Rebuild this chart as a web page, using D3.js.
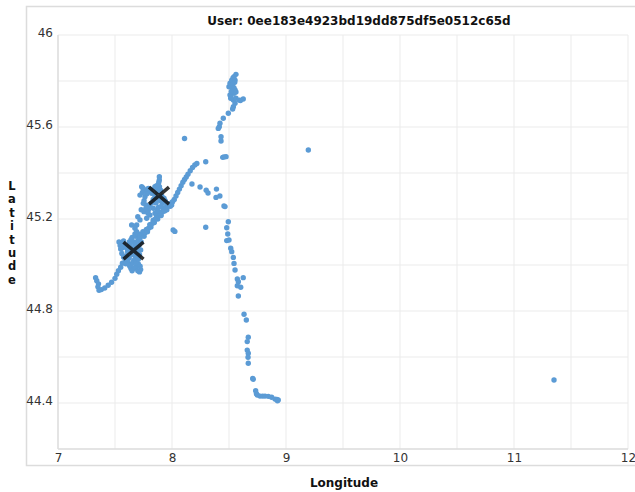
<!DOCTYPE html>
<html><head><meta charset="utf-8">
<script src="https://cdn.jsdelivr.net/npm/d3@7"></script>
<style>body{margin:0;background:#fff;}svg{display:block;font-family:"DejaVu Sans",sans-serif;}</style>
</head><body>
<svg id="c" width="635" height="492"></svg>
<script>
const title = "User: 0ee183e4923bd19dd875df5e0512c65d";
const xTicks = [7, 8, 9, 10, 11, 12];
const yTicks = [44.4, 44.8, 45.2, 45.6, 46];
const xGrid = [7, 7.5, 8, 8.5, 9, 9.5, 10, 10.5, 11, 11.5, 12];
const yGrid = [44.2, 44.4, 44.6, 44.8, 45, 45.2, 45.4, 45.6, 45.8, 46];

// [lon, lat]
const tailSW = [[7.33,44.945],[7.34,44.932],[7.355,44.918],[7.35,44.905],[7.36,44.89],[7.38,44.893],[7.41,44.9],[7.44,44.912],[7.47,44.925],[7.5,44.942],[7.515,44.96],[7.53,44.975],[7.55,44.99],[7.565,45.008]];
const clusterLow = [[7.535,45.10],[7.545,45.085],[7.56,45.095],[7.575,45.105],[7.55,45.07],[7.56,45.05],[7.575,45.035],[7.59,45.025],[7.60,45.015],[7.615,45.005],[7.63,44.995],[7.64,44.985],[7.65,44.975],[7.665,44.985],[7.68,44.99],[7.70,44.975],[7.715,44.97],[7.725,44.98],[7.72,44.995],[7.705,45.005],[7.60,45.04],[7.61,45.06],[7.62,45.08],[7.625,45.10],[7.64,45.11],[7.65,45.12],[7.665,45.10],[7.675,45.09],[7.69,45.075],[7.70,45.06],[7.695,45.04],[7.68,45.03],[7.665,45.02],[7.655,45.045],[7.645,45.055],[7.625,45.03],[7.61,45.02],[7.595,45.005],[7.64,45.0],[7.655,45.01],[7.685,45.01],[7.705,45.025],[7.715,45.045],[7.725,45.065],[7.71,45.085],[7.70,45.105],[7.685,45.125],[7.675,45.135],[7.69,45.145],[7.705,45.135],[7.715,45.115],[7.73,45.10],[7.72,45.125],[7.565,45.075],[7.58,45.09],[7.60,45.075],[7.63,45.09],[7.645,45.075],[7.67,45.055],[7.68,45.07]];
const band = [[7.72,45.12],[7.735,45.135],[7.745,45.145],[7.755,45.125],[7.765,45.14],[7.775,45.155],[7.785,45.145],[7.795,45.16],[7.805,45.175],[7.815,45.165],[7.825,45.18],[7.835,45.195],[7.845,45.185],[7.855,45.2],[7.865,45.215],[7.875,45.2],[7.885,45.215],[7.895,45.23],[7.905,45.215],[7.915,45.23],[7.925,45.245],[7.935,45.235],[7.945,45.25],[7.955,45.24],[7.965,45.255],[7.975,45.265],[7.985,45.255],[7.995,45.27],[8.005,45.275],[8.02,45.285],[8.035,45.30],[8.05,45.315],[8.065,45.33],[8.08,45.345],[8.095,45.36],[8.11,45.372],[8.125,45.383],[8.14,45.395],[8.16,45.41],[8.18,45.424],[8.20,45.435],[8.218,45.441],[8.296,45.449]];
const clusterUp = [[7.889,45.384],[7.889,45.37],[7.88,45.348],[7.884,45.36],[7.734,45.34],[7.719,45.304],[7.763,45.326],[7.792,45.333],[7.822,45.312],[7.763,45.297],[7.748,45.268],[7.772,45.261],[7.754,45.232],[7.792,45.239],[7.807,45.217],[7.778,45.203],[7.719,45.196],[7.69,45.174],[7.646,45.174],[7.675,45.16],[7.836,45.247],[7.851,45.225],[7.895,45.225],[7.924,45.247],[7.953,45.268],[7.997,45.261],[7.86,45.33],[7.875,45.32],[7.90,45.325],[7.91,45.30],[7.875,45.29],[7.895,45.28],[7.915,45.27],[7.86,45.27],[7.85,45.30],[7.835,45.285],[7.82,45.27],[7.88,45.25],[7.87,45.235],[7.905,45.255],[7.89,45.34],[7.81,45.33],[7.80,45.32],[7.78,45.31],[7.745,45.335],[7.74,45.315],[7.755,45.28],[7.77,45.245],[7.79,45.225],[7.805,45.255],[7.85,45.34],[7.865,45.345],[7.93,45.29],[7.94,45.28],[7.73,45.24],[7.70,45.21]];
const loopEast = [[8.175,45.352],[8.246,45.339],[8.30,45.325],[8.316,45.313],[8.39,45.33],[8.386,45.294],[8.42,45.30],[8.456,45.257],[8.465,45.254],[8.296,45.164],[8.01,45.152],[8.025,45.146],[8.11,45.55]];
const descent = [[8.494,45.188],[8.48,45.162],[8.489,45.135],[8.48,45.106],[8.50,45.109],[8.515,45.073],[8.524,45.058],[8.538,45.033],[8.544,45.007],[8.553,44.978],[8.573,44.939],[8.625,44.945],[8.582,44.927],[8.573,44.91],[8.603,44.903],[8.582,44.865],[8.632,44.786],[8.652,44.761],[8.669,44.686],[8.66,44.667],[8.66,44.63],[8.669,44.616],[8.667,44.599],[8.669,44.573]];
const bottomRun = [[8.708,44.507],[8.713,44.503],[8.734,44.453],[8.74,44.44],[8.748,44.435],[8.772,44.43],[8.795,44.43],[8.816,44.43],[8.845,44.429],[8.874,44.425],[8.904,44.417],[8.92,44.415],[8.932,44.413],[8.925,44.41]];
const topCluster = [[8.561,45.829],[8.544,45.819],[8.524,45.804],[8.509,45.79],[8.50,45.775],[8.532,45.768],[8.553,45.761],[8.544,45.747],[8.509,45.739],[8.515,45.725],[8.538,45.717],[8.561,45.725],[8.59,45.717],[8.625,45.722],[8.553,45.703],[8.538,45.688],[8.532,45.678],[8.494,45.66],[8.45,45.638],[8.421,45.616],[8.415,45.601],[8.406,45.594],[8.43,45.558],[8.43,45.539],[8.445,45.468],[8.474,45.471],[8.456,45.47],[8.535,45.813],[8.526,45.796],[8.518,45.783],[8.535,45.787],[8.553,45.804],[8.544,45.77],[8.561,45.752],[8.518,45.73],[8.60,45.715],[8.55,45.795],[8.52,45.755]];
const outliers = [[9.196,45.50],[11.351,44.50]];
const centroids = [[7.886,45.302],[7.662,45.063]];

const points = [].concat(tailSW, clusterLow, band, clusterUp, loopEast, descent, bottomRun, topCluster, outliers);

const svg = d3.select("#c");
const L = 58, R = 628, T = 35, B = 449;
const x = d3.scaleLinear().domain([7, 12]).range([L, R]);
const y = d3.scaleLinear().domain([44.2, 46]).range([B, T]);

// outer frame
svg.append("rect").attr("x", 26.5).attr("y", 6.5).attr("width", 640).attr("height", 459)
  .attr("fill", "none").attr("stroke", "#dcdcdc").attr("stroke-width", 1.5);

// grid
svg.append("g").selectAll("line").data(xGrid).join("line")
  .attr("x1", d => x(d)).attr("x2", d => x(d)).attr("y1", T).attr("y2", B)
  .attr("stroke", "#ebebeb").attr("stroke-width", 1);
svg.append("g").selectAll("line").data(yGrid).join("line")
  .attr("x1", L).attr("x2", R).attr("y1", d => y(d)).attr("y2", d => y(d))
  .attr("stroke", "#ebebeb").attr("stroke-width", 1);
// axis lines
svg.append("line").attr("x1", L).attr("x2", L).attr("y1", T).attr("y2", B).attr("stroke", "#dedede").attr("stroke-width", 1.5);
svg.append("line").attr("x1", L).attr("x2", R).attr("y1", B).attr("y2", B).attr("stroke", "#dedede").attr("stroke-width", 1.5);

// axes (tick labels)
const xa = svg.append("g").attr("transform", `translate(0,${B})`)
  .call(d3.axisBottom(x).tickValues(xTicks).tickFormat(d3.format("d")).tickSize(0).tickPadding(4));
const ya = svg.append("g").attr("transform", `translate(${L},0)`)
  .call(d3.axisLeft(y).tickValues(yTicks).tickFormat(d => d3.format(".1f")(d).replace(/\.0$/, "")).tickSize(0).tickPadding(5));
[xa, ya].forEach(g => {
  g.select(".domain").remove();
  g.selectAll("text").attr("font-size", 12).attr("fill", "#333").attr("font-family", "DejaVu Sans, sans-serif");
});
ya.selectAll("text").attr("dy", "0.1em");

// points
svg.append("g").selectAll("circle").data(points).join("circle")
  .attr("cx", d => x(d[0])).attr("cy", d => y(d[1])).attr("r", 2.7)
  .attr("fill", "#5b9bd5");

// centroids
const sz = 10;
svg.append("g").selectAll("path").data(centroids).join("path")
  .attr("d", d => { const cx = x(d[0]), cy = y(d[1]);
    return `M${cx-sz},${cy-sz*0.85}L${cx+sz},${cy+sz*0.85}M${cx-sz},${cy+sz*0.85}L${cx+sz},${cy-sz*0.85}`; })
  .attr("stroke", "#111").attr("stroke-width", 3.6).attr("stroke-opacity", 0.85).attr("fill", "none");

// title
svg.append("text").attr("x", 359).attr("y", 25).attr("text-anchor", "middle")
  .attr("font-size", 12).attr("font-weight", "bold").attr("fill", "#111").text(title);
// x label
svg.append("text").attr("x", 344).attr("y", 487).attr("text-anchor", "middle")
  .attr("font-size", 12).attr("font-weight", "bold").attr("fill", "#111").text("Longitude");
// y label stacked
const yl = "Latitude".split("");
svg.append("g").selectAll("text").data(yl).join("text")
  .attr("x", 12).attr("y", (d, i) => 190 + i * 13.4).attr("text-anchor", "middle")
  .attr("font-size", 11.5).attr("font-weight", "bold").attr("fill", "#111").text(d => d);
</script>
</body></html>
